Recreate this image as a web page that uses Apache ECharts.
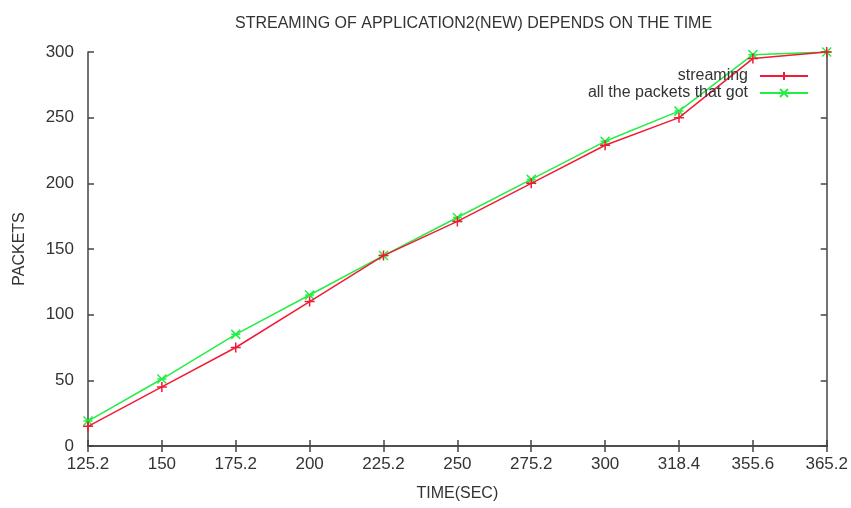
<!DOCTYPE html>
<html>
<head>
<meta charset="utf-8">
<script src="https://cdn.jsdelivr.net/npm/echarts@6/dist/echarts.min.js"></script>
<style>html,body{margin:0;padding:0;background:#fff;}#c{width:851px;height:508px;}</style>
</head>
<body>
<div id="c"></div>
<script>
const titleText = 'STREAMING OF APPLICATION2(NEW) DEPENDS ON THE TIME';
const xName = 'TIME(SEC)';
const yName = 'PACKETS';
const categories = ['125.2','150','175.2','200','225.2','250','275.2','300','318.4','355.6','365.2'];
const streaming = [15, 45, 75, 110, 145, 171, 200, 229, 250, 295, 300];
const allPackets = [19, 51, 85, 115, 145, 174, 203, 232, 255, 298, 300];
const seriesNames = ['streaming', 'all the packets that got'];

const reg = '"Liberation Sans", Arial, sans-serif';
const txt = '#333';
const axisColor = '#444';

const chart = echarts.init(document.getElementById('c'), null, {renderer: 'canvas'});
const baseX = {
  type: 'category', data: categories, boundaryGap: false,
  axisLine: {show: true, lineStyle: {color: axisColor, width: 1.5}},
  axisTick: {show: true, inside: true, length: 6, lineStyle: {color: axisColor, width: 1.5}},
  splitLine: {show: false}
};
const baseY = {
  type: 'value', min: 0, max: 300, interval: 50,
  axisLine: {show: true, lineStyle: {color: axisColor, width: 1.5}},
  axisTick: {show: true, inside: true, length: 6, lineStyle: {color: axisColor, width: 1.5}},
  splitLine: {show: false}
};
const plusPath = 'path://M0,5L10,5M5,0L5,10';
const crossPath = 'path://M0,0L10,10M10,0L0,10M0,5L10,5';
chart.setOption({
  animation: false,
  backgroundColor: '#fff',
  title: {
    text: titleText, left: 230, top: 11,
    textStyle: {fontFamily: reg, fontSize: 16, fontWeight: 'normal', color: txt}
  },
  grid: {left: 88, right: 24, top: 52, bottom: 62},
  legend: {
    orient: 'vertical', right: 37, top: 63, align: 'right',
    itemWidth: 48, itemHeight: 10, itemGap: 1,
    textStyle: {fontFamily: reg, fontSize: 16, color: txt, padding: [0, 7, 0, 0]},
    data: seriesNames
  },
  xAxis: [
    Object.assign({}, baseX, {
      position: 'bottom', name: xName, nameLocation: 'middle', nameGap: 40,
      nameTextStyle: {fontFamily: reg, fontSize: 16, color: txt},
      axisLabel: {fontFamily: reg, fontSize: 17, color: txt, margin: 10}
    }),
    Object.assign({}, baseX, {position: 'top', axisLabel: {show: false}})
  ],
  yAxis: [
    Object.assign({}, baseY, {
      position: 'left', name: yName, nameLocation: 'middle', nameGap: 60,
      nameTextStyle: {fontFamily: reg, fontSize: 16, color: txt},
      axisLabel: {fontFamily: reg, fontSize: 17, color: txt, margin: 14}
    }),
    Object.assign({}, baseY, {position: 'right', axisLabel: {show: false}})
  ],
  series: [
    {
      name: seriesNames[0], type: 'line', data: streaming,
      symbol: plusPath, symbolSize: 10,
      lineStyle: {color: '#f21a35', width: 1.5},
      itemStyle: {color: '#f21a35', borderColor: '#f21a35', borderWidth: 1.5},
      z: 3
    },
    {
      name: seriesNames[1], type: 'line', data: allPackets,
      symbol: crossPath, symbolSize: 9,
      lineStyle: {color: '#22ee44', width: 1.5},
      itemStyle: {color: '#22ee44', borderColor: '#22ee44', borderWidth: 1.5},
      z: 2
    }
  ]
});
</script>
</body>
</html>
